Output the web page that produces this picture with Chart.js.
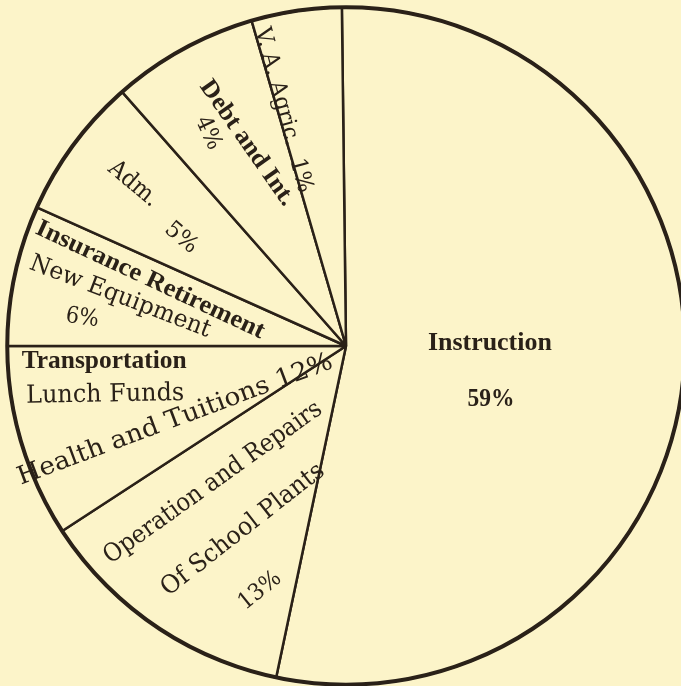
<!DOCTYPE html>
<html>
<head>
<meta charset="utf-8">
<script src="https://cdn.jsdelivr.net/npm/chart.js@4/dist/chart.umd.min.js"></script>
<style>
  html, body { margin: 0; padding: 0; background: #fcf4c9; overflow: hidden; }
  #wrap { position: absolute; left: 0; top: 0; width: 692px; height: 692px; }
</style>
</head>
<body>
<div id="wrap"><canvas id="budgetPie"></canvas></div>
<script>
// categories, clockwise from the top
const categories = [
  "Instruction",
  "Operation and Repairs of School Plants",
  "Transportation, Lunch Funds, Health and Tuitions",
  "Insurance Retirement, New Equipment",
  "Adm.",
  "Debt and Int.",
  "V. A. Agric."
];
// percentages printed on the chart
const printedPct = [59, 13, 12, 6, 5, 4, 1];
// wedge sizes as drawn (the hand-drawn wedges don't match the printed %)
const drawnShare = [53.5, 12.5, 9.2, 6.7, 6.8, 7.0, 4.3];

const INK = "#2a2118";
const PAPER = "#fcf4c9";

// label text placed in each wedge (b = heavy face)
const labelLines = [
  { t: "Instruction", x: 144, y: -3, a: 0, w: 124, s: 26, b: true },
  { t: printedPct[0] + "%", x: 145, y: 54, a: 0, w: 47, s: 25, b: true },
  { t: "Operation and Repairs", x: -133, y: 137, a: -35.5, w: 262, s: 25 },
  { t: "Of School Plants", x: -103, y: 184, a: -38, w: 200, s: 25 },
  { t: printedPct[1] + "%", x: -86, y: 245, a: -39, w: 48, s: 23 },
  { t: "Transportation", x: -242, y: 16, a: 0, w: 165, s: 25, b: true },
  { t: "Lunch Funds", x: -241, y: 49, a: -1, w: 158, s: 25 },
  { t: "Health and Tuitions " + printedPct[2] + "%", x: -171, y: 74, a: -20.5, w: 335, s: 25 },
  { t: "Insurance Retirement", x: -196, y: -66, a: 25, w: 250, s: 25, b: true },
  { t: "New Equipment", x: -226, y: -49, a: 21, w: 192, s: 24 },
  { t: printedPct[3] + "%", x: -264, y: -28, a: 8, w: 33, s: 23 },
  { t: "Adm.", x: -213, y: -162, a: 40, w: 58, s: 24 },
  { t: printedPct[4] + "%", x: -165, y: -108, a: 40, w: 36, s: 23 },
  { t: "Debt and Int.", x: -99, y: -203, a: 55, w: 148, s: 25, b: true },
  { t: printedPct[5] + "%", x: -138, y: -213, a: 65, w: 34, s: 23 },
  { t: "V. A. Agric.  " + printedPct[6] + "%", x: -63, y: -236, a: 75, w: 170, s: 23 }
];

const pieDecor = {
  id: "pieDecor",
  afterDatasetsDraw(chart) {
    const arc = chart.getDatasetMeta(0).data[0];
    const cx = arc.x, cy = arc.y, r = arc.outerRadius;
    const ctx = chart.ctx;
    ctx.save();
    // heavy outer rim
    ctx.beginPath();
    ctx.arc(cx, cy, r, 0, Math.PI * 2);
    ctx.lineWidth = 4;
    ctx.strokeStyle = INK;
    ctx.stroke();

    ctx.fillStyle = INK;
    ctx.textAlign = "center";
    ctx.textBaseline = "middle";
    const k = r / 339;
    labelLines.forEach(l => {
      ctx.save();
      const px = Math.round(l.s * k);
      ctx.font = l.b ? "bold " + px + "px 'Liberation Serif', serif"
                     : px + "px 'DejaVu Serif', serif";
      ctx.translate(cx + l.x * k, cy + l.y * k);
      ctx.rotate(l.a * Math.PI / 180);
      const sx = (l.w * k) / ctx.measureText(l.t).width;
      ctx.scale(sx, 1);
      ctx.fillText(l.t, 0, 0);
      ctx.restore();
    });
    ctx.restore();
  }
};

new Chart(document.getElementById("budgetPie"), {
  type: "pie",
  data: {
    labels: categories,
    datasets: [{
      data: drawnShare,
      backgroundColor: PAPER,
      borderColor: INK,
      borderWidth: 2.5
    }]
  },
  options: {
    responsive: true,
    maintainAspectRatio: false,
    animation: false,
    rotation: -0.7,
    layout: { padding: 6 },
    plugins: {
      legend: { display: false },
      tooltip: { enabled: false }
    }
  },
  plugins: [pieDecor]
});
</script>
</body>
</html>
